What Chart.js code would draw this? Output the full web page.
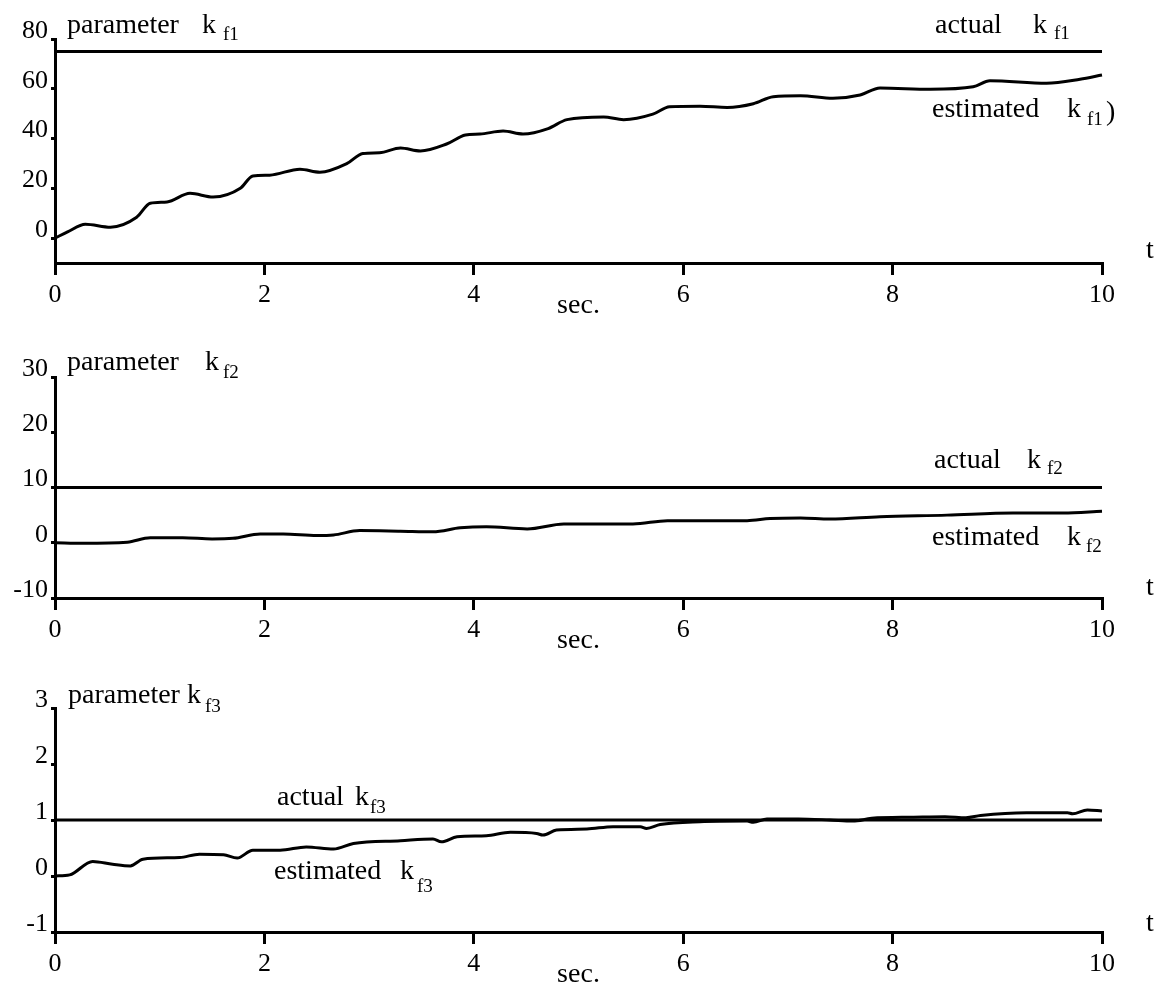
<!DOCTYPE html>
<html>
<head>
<meta charset="utf-8">
<script src="https://cdn.jsdelivr.net/npm/chart.js@4.4.1/dist/chart.umd.min.js"></script>
<style>
  html, body { margin: 0; padding: 0; background: #fff; }
  #wrap { position: relative; width: 1173px; height: 992px; overflow: hidden; }
  canvas { position: absolute; left: 0; display: block; }
</style>
</head>
<body>
<div id="wrap">
  <canvas id="k1" width="1173" height="330" style="top:0px"></canvas>
  <canvas id="k2" width="1173" height="345" style="top:320px"></canvas>
  <canvas id="k3" width="1173" height="342" style="top:650px"></canvas>
</div>
<script>
// time axis (sec.)
const timeTicks = [0, 2, 4, 6, 8, 10];

// parameter k_f1
const k1Ticks = [0, 20, 40, 60, 80];
const k1Actual = 75;
const k1Time = [0, 0.12, 0.29, 0.53, 0.78, 0.91, 1.07, 1.29, 1.51, 1.77, 1.89, 2.05, 2.34, 2.53, 2.79, 2.94,
  3.10, 3.30, 3.49, 3.74, 3.92, 4.06, 4.28, 4.47, 4.71, 4.89, 5.24, 5.43, 5.71, 5.87, 6.16, 6.42, 6.67,
  6.86, 7.12, 7.43, 7.69, 7.88, 8.36, 8.77, 8.93, 9.47, 9.79, 10];
const k1Est = [0, 2.5, 5.6, 4.4, 8.4, 14, 14.5, 18, 16.5, 20, 25, 25.3, 27.7, 26.5, 30, 34,
  34.3, 36.2, 35, 37.8, 41.4, 41.8, 43, 41.8, 44, 47.6, 48.7, 47.6, 49.8, 52.8, 53, 52.5, 54,
  56.8, 57.2, 56.2, 57.5, 60.3, 59.8, 60.8, 63.2, 62.2, 63.8, 65.5];

// parameter k_f2
const k2Ticks = [-10, 0, 10, 20, 30];
const k2Actual = 10;
const k2Time = [0, 0.27, 0.69, 0.91, 1.22, 1.50, 1.70, 1.96, 2.18, 2.50, 2.66, 2.91, 3.30, 3.61, 3.87,
  4.12, 4.51, 4.86, 5.21, 5.52, 5.85, 6.32, 6.61, 6.83, 7.12, 7.40, 7.88, 8.52, 9.15, 9.63, 10];
const k2Est = [0, -0.1, 0.1, 0.9, 0.9, 0.7, 0.8, 1.6, 1.6, 1.3, 1.4, 2.2, 2.1, 2.0, 2.7,
  2.9, 2.5, 3.4, 3.4, 3.4, 4.0, 4.0, 4.0, 4.4, 4.5, 4.3, 4.7, 5.0, 5.4, 5.4, 5.7];

// parameter k_f3
const k3Ticks = [-1, 0, 1, 2, 3];
const k3Actual = 1;
const k3Time = [0, 0.14, 0.36, 0.55, 0.72, 0.84, 1.19, 1.38, 1.61, 1.74, 1.89, 2.15, 2.40, 2.66, 2.85,
  3.30, 3.61, 3.69, 3.84, 4.12, 4.35, 4.60, 4.66, 4.79, 5.08, 5.33, 5.59, 5.65, 5.78, 6.16, 6.61,
  6.67, 6.80, 7.10, 7.40, 7.62, 7.80, 8.20, 8.50, 8.70, 8.84, 9.28, 9.67, 9.72, 9.86, 10];
const k3Est = [0, 0.02, 0.26, 0.21, 0.18, 0.30, 0.33, 0.39, 0.38, 0.32, 0.46, 0.46, 0.52, 0.48, 0.58,
  0.63, 0.66, 0.61, 0.70, 0.72, 0.78, 0.76, 0.73, 0.82, 0.84, 0.88, 0.88, 0.85, 0.92, 0.97, 0.98,
  0.96, 1.02, 1.02, 1.00, 0.98, 1.03, 1.05, 1.06, 1.04, 1.08, 1.13, 1.13, 1.11, 1.18, 1.16];

const SERIF = "'Liberation Serif', 'Times New Roman', Times, serif";

// free text drawn on each panel: runs of text at a baseline position
const notesPlugin = {
  id: 'notes',
  afterDraw(chart, args, opts) {
    const ctx = chart.ctx;
    ctx.save();
    ctx.fillStyle = '#000';
    ctx.textBaseline = 'alphabetic';
    ctx.textAlign = 'left';
    for (const r of opts.items || []) {
      ctx.font = r.size + 'px ' + SERIF;
      ctx.fillText(r.text, r.x, r.y);
    }
    ctx.restore();
  }
};

// "word k_sub" label as three runs
function kLabel(word, wx, kx, sx, base, sub, subBase) {
  return [
    { text: word, x: wx, y: base, size: 28 },
    { text: 'k', x: kx, y: base, size: 28 },
    { text: sub, x: sx, y: subBase, size: 19 }
  ];
}

function makePanel(id, p) {
  const pts = (xs, ys) => xs.map((x, i) => ({ x: x, y: ys[i] }));
  const ends = [timeTicks[0], timeTicks[timeTicks.length - 1]];
  return new Chart(document.getElementById(id), {
    type: 'line',
    data: {
      datasets: [
        { label: 'actual', data: ends.map(t => ({ x: t, y: p.actual })),
          borderColor: '#000', borderWidth: 3, pointRadius: 0, tension: 0, clip: false },
        { label: 'estimated', data: pts(p.time, p.est),
          borderColor: '#000', borderWidth: 3, pointRadius: 0, cubicInterpolationMode: 'monotone', clip: false }
      ]
    },
    options: {
      responsive: false,
      animation: false,
      events: [],
      layout: { padding: { top: p.top, right: 71, left: 0, bottom: 0 } },
      plugins: {
        legend: { display: false },
        tooltip: { enabled: false },
        notes: { items: p.notes }
      },
      scales: {
        x: {
          type: 'linear', min: 0, max: 10,
          afterBuildTicks: s => { s.ticks = timeTicks.map(v => ({ value: v })); },
          afterFit: s => { s.height = p.xh; },
          grid: { drawOnChartArea: false, drawTicks: true, tickLength: 12, color: '#000', lineWidth: 3 },
          border: { display: true, color: '#000', width: 3 },
          ticks: { color: '#000', font: { family: SERIF, size: 26 }, padding: 5, autoSkip: false, maxRotation: 0 },
          title: { display: true, text: 'sec.', color: '#000',
                   font: { family: SERIF, size: 28, lineHeight: 1 },
                   padding: { top: 0, bottom: p.secPad } }
        },
        y: {
          type: 'linear', min: p.min, max: p.max,
          afterBuildTicks: s => { s.ticks = p.ticks.map(v => ({ value: v })); },
          afterFit: s => { s.width = 55; },
          grid: { drawOnChartArea: false, drawTicks: true, tickLength: 4, color: '#000', lineWidth: 3 },
          border: { display: true, color: '#000', width: 3 },
          ticks: { color: '#000', font: { family: SERIF, size: 26 }, padding: 3, labelOffset: -8, autoSkip: false }
        }
      }
    },
    plugins: [notesPlugin]
  });
}

makePanel('k1', {
  actual: k1Actual, time: k1Time, est: k1Est, ticks: k1Ticks, min: -10, max: 80,
  top: 39, xh: 67, secPad: 10,
  notes: [].concat(
    kLabel('parameter', 67, 202, 223, 33, 'f1', 40),
    kLabel('actual', 935, 1033, 1054, 33, 'f1', 39),
    kLabel('estimated', 932, 1067, 1087, 117, 'f1', 125),
    [{ text: ')', x: 1106, y: 120, size: 28 }, { text: 't', x: 1146, y: 258, size: 28 }]
  )
});

makePanel('k2', {
  actual: k2Actual, time: k2Time, est: k2Est, ticks: k2Ticks, min: -10, max: 30,
  top: 57, xh: 67, secPad: 10,
  notes: [].concat(
    kLabel('parameter', 67, 205, 223, 50, 'f2', 58),
    kLabel('actual', 934, 1027, 1047, 148, 'f2', 154),
    kLabel('estimated', 932, 1067, 1086, 225, 'f2', 232),
    [{ text: 't', x: 1146, y: 275, size: 28 }]
  )
});

makePanel('k3', {
  actual: k3Actual, time: k3Time, est: k3Est, ticks: k3Ticks, min: -1, max: 3,
  top: 58, xh: 60, secPad: 3,
  notes: [].concat(
    kLabel('parameter', 68, 187, 205, 53, 'f3', 62),
    kLabel('actual', 277, 355, 370, 155, 'f3', 163),
    kLabel('estimated', 274, 400, 417, 229, 'f3', 242),
    [{ text: 't', x: 1146, y: 281, size: 28 }]
  )
});
</script>
</body>
</html>
